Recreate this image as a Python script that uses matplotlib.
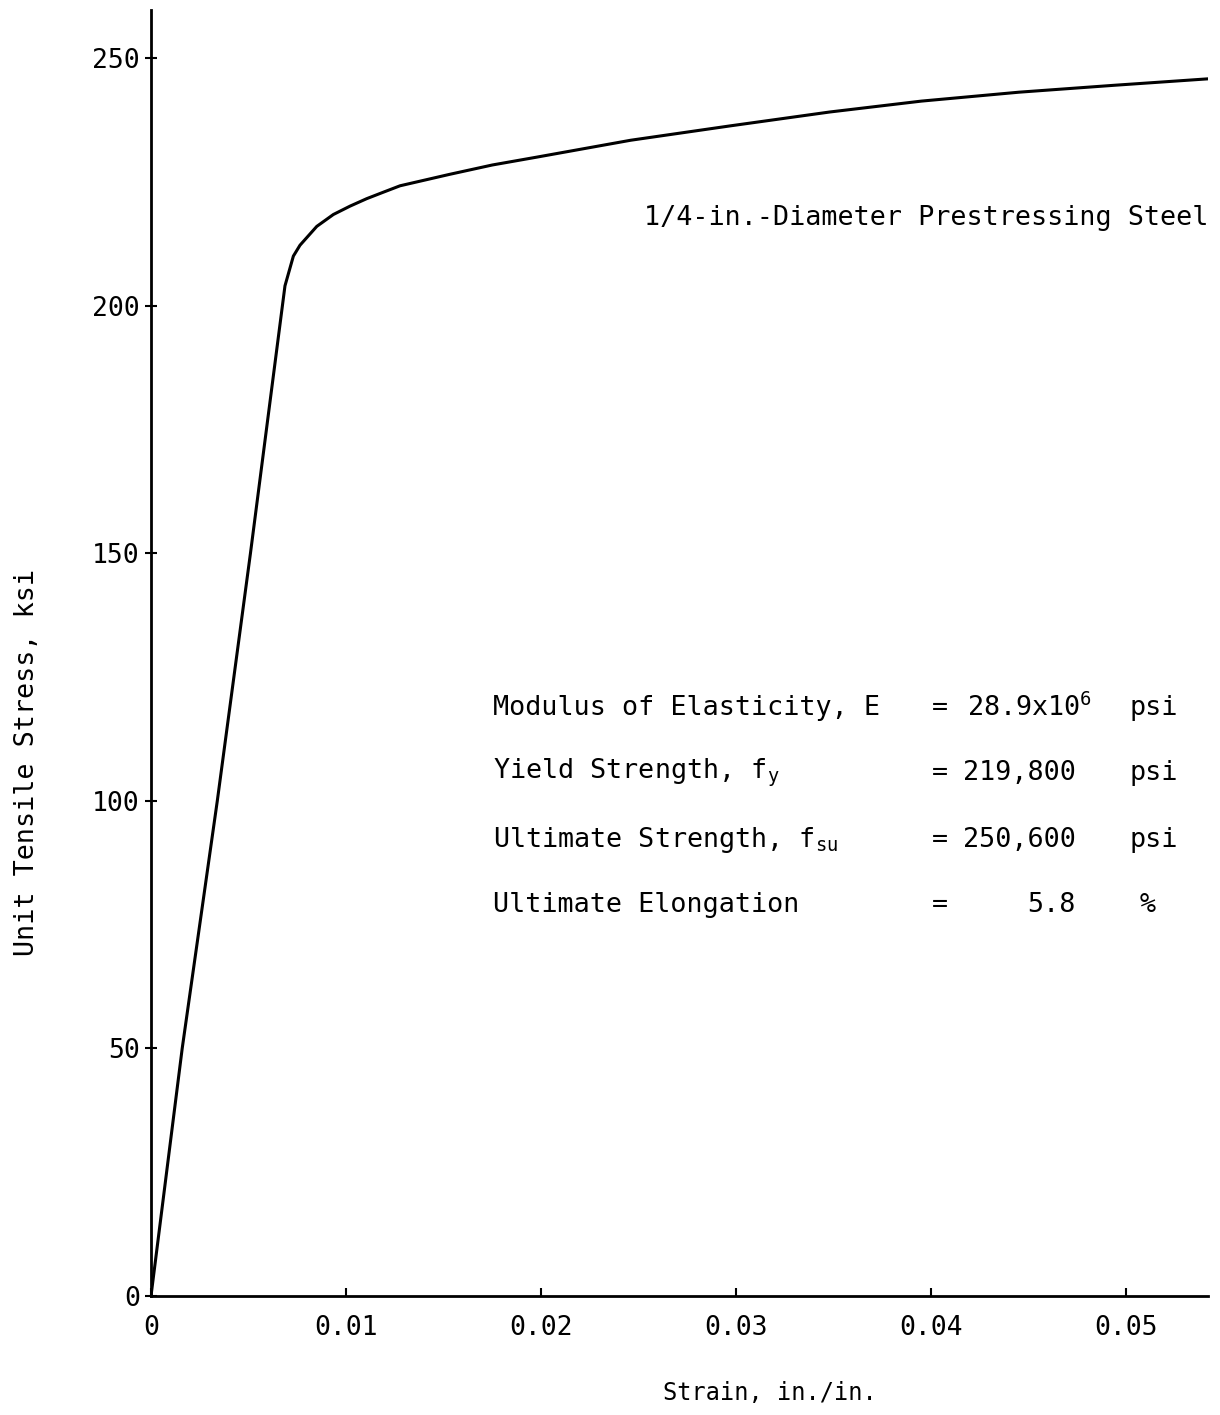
import matplotlib
matplotlib.use("Agg")
import matplotlib.pyplot as plt

plt.rcParams['font.family'] = ['DejaVu Sans Mono']
plt.rcParams['mathtext.fontset'] = 'custom'
plt.rcParams['mathtext.rm'] = 'DejaVu Sans Mono'
plt.rcParams['mathtext.it'] = 'DejaVu Sans Mono'
plt.rcParams['mathtext.default'] = 'regular'

# stress-strain curve
strain = [0.0, 0.0016, 0.0034, 0.0051, 0.00687, 0.0073, 0.00764,
          0.0085, 0.00935, 0.01021, 0.01106, 0.01191, 0.01277, 0.0153, 0.0175,
          0.0198, 0.0246, 0.0297, 0.0348, 0.0395, 0.0445, 0.0494, 0.0542]
stress = [0, 50, 100, 150, 204, 210, 212.2, 216, 218.4, 220.1, 221.6, 222.9,
          224.2, 226.5, 228.4, 230, 233.4, 236.3, 239.1, 241.3, 243.1, 244.5,
          245.8]

xticks = [0, 0.01, 0.02, 0.03, 0.04, 0.05]
xtick_labels = ["0", "0.01", "0.02", "0.03", "0.04", "0.05"]
yticks = [0, 50, 100, 150, 200, 250]

props = ["Modulus of Elasticity, E", "Yield Strength, f$_y$",
         "Ultimate Strength, f$_{su}$", "Ultimate Elongation"]
values = ["28.9x10$^6$", "219,800", "250,600", "5.8"]
units = ["psi", "psi", "psi", "%"]

W, H = 1220, 1415
fig = plt.figure(figsize=(W / 100, H / 100), dpi=100)
ax = fig.add_axes([151 / W, 1 - 1296 / H, (1208 - 151) / W, (1296 - 10) / H])

ax.plot(strain, stress, color='black', lw=2.2, solid_capstyle='round',
        solid_joinstyle='round')

ax.set_xlim(0, 0.0542)
ax.set_ylim(0, 259.7)
for s in ['top', 'right']:
    ax.spines[s].set_visible(False)
for s in ['left', 'bottom']:
    ax.spines[s].set_linewidth(2.0)

ax.set_xticks(xticks)
ax.set_xticklabels(xtick_labels)
ax.set_yticks(yticks)
ax.tick_params(axis='x', direction='in', length=6, width=1.5, labelsize=19, pad=14)
ax.tick_params(axis='y', direction='inout', length=8, width=1.5, labelsize=19, pad=4)


def px(x, y):
    return x / W, 1 - y / H


fs = 19.3
fig.text(*px(27, 762), "Unit Tensile Stress, ksi", rotation=90, fontsize=fs,
         ha='center', va='center')
fig.text(*px(770, 1393), "Strain, in./in.", fontsize=17, ha='center', va='center')

fig.text(*px(644, 218), "1/4-in.-Diameter Prestressing Steel", fontsize=fs,
         ha='left', va='center')

row_y = [708, 773, 840, 905]
for i in range(len(props)):
    y = row_y[i]
    fig.text(*px(493, y), props[i], fontsize=fs, ha='left', va='center')
    fig.text(*px(932, y), "=", fontsize=fs, ha='left', va='center')
    if i == 0:
        fig.text(*px(967, y), values[i], fontsize=fs, ha='left', va='center')
    else:
        fig.text(*px(1076, y), values[i], fontsize=fs, ha='right', va='center')
    fig.text(*px(1130 if units[i] == "psi" else 1140, y), units[i], fontsize=fs,
             ha='left', va='center')

fig.savefig("out.png", dpi=100)
